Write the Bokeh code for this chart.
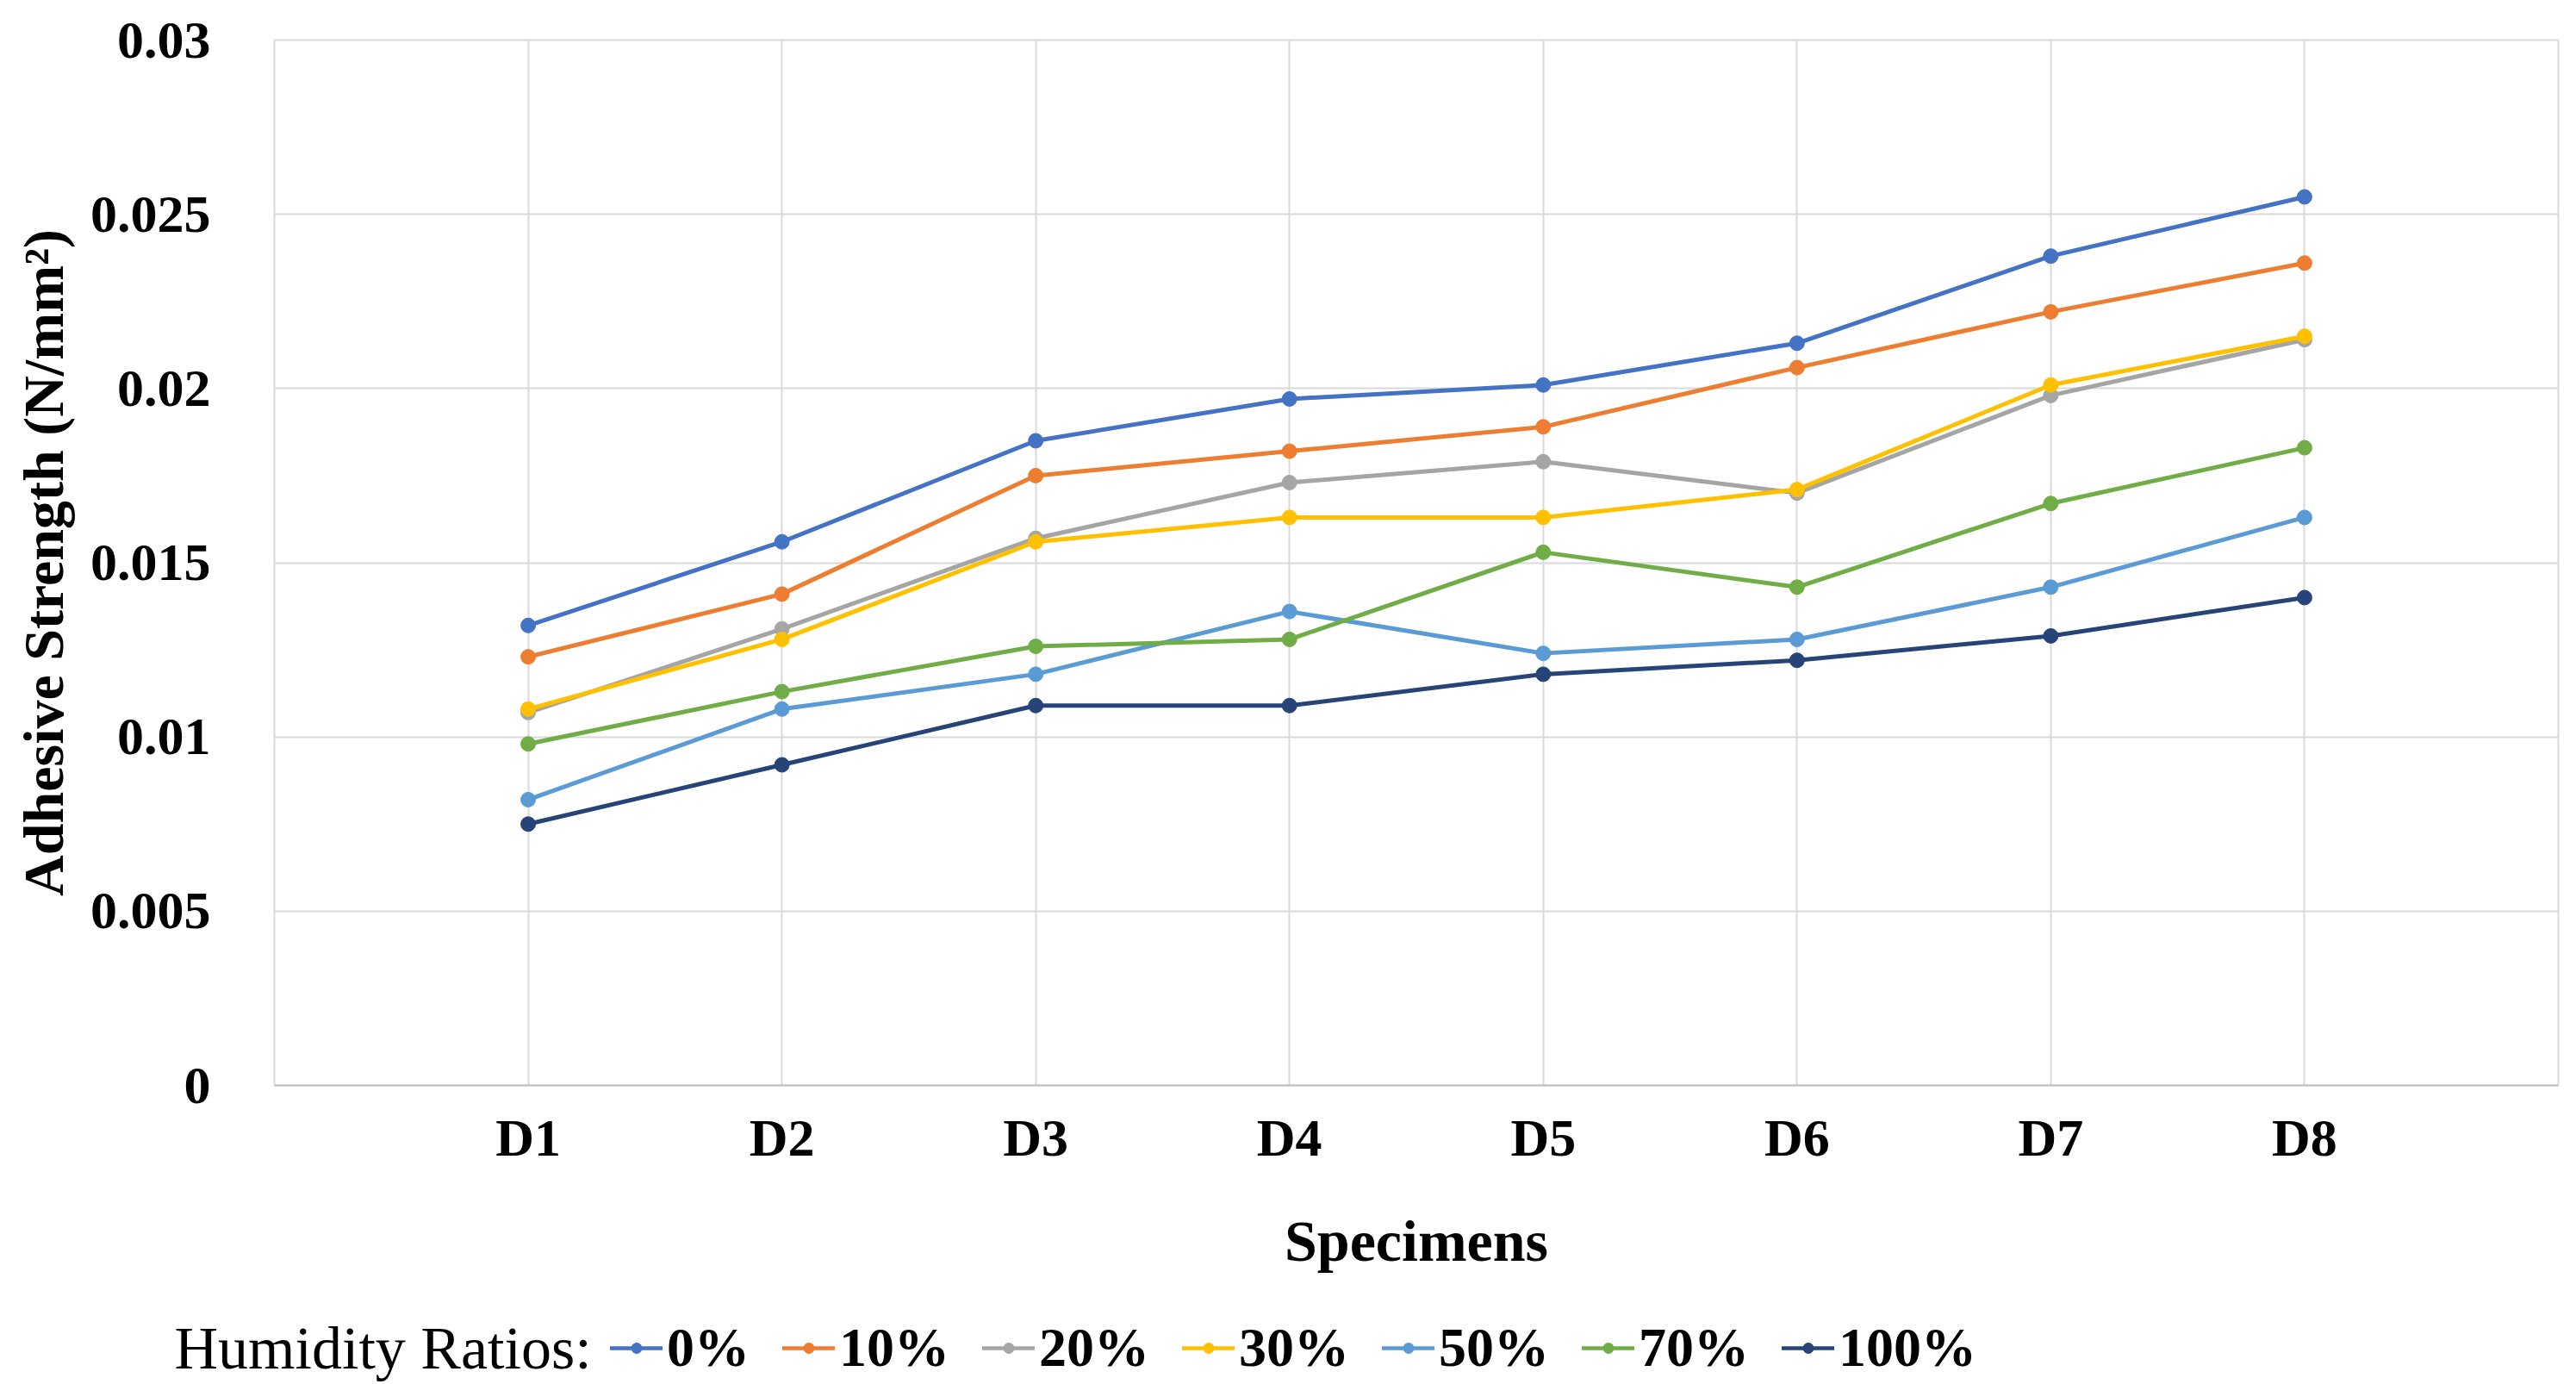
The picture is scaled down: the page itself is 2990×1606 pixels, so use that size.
from bokeh.plotting import figure
from bokeh.layouts import column
from bokeh.models import (FactorRange, Range1d, FixedTicker, Legend, LegendItem, Label)
from bokeh.embed import file_html
from bokeh.resources import INLINE

specimens = ["D1", "D2", "D3", "D4", "D5", "D6", "D7", "D8"]
series_names = ["0%", "10%", "20%", "30%", "50%", "70%", "100%"]
h0 = [0.0132, 0.0156, 0.0185, 0.0197, 0.0201, 0.0213, 0.0238, 0.0255]
h10 = [0.0123, 0.0141, 0.0175, 0.0182, 0.0189, 0.0206, 0.0222, 0.0236]
h20 = [0.0107, 0.0131, 0.0157, 0.0173, 0.0179, 0.0170, 0.0198, 0.0214]
h30 = [0.0108, 0.0128, 0.0156, 0.0163, 0.0163, 0.0171, 0.0201, 0.0215]
h50 = [0.0082, 0.0108, 0.0118, 0.0136, 0.0124, 0.0128, 0.0143, 0.0163]
h70 = [0.0098, 0.0113, 0.0126, 0.0128, 0.0153, 0.0143, 0.0167, 0.0183]
h100 = [0.0075, 0.0092, 0.0109, 0.0109, 0.0118, 0.0122, 0.0129, 0.0140]
series_values = [h0, h10, h20, h30, h50, h70, h100]
colors = ["#4472C4", "#ED7D31", "#A5A5A5", "#FFC000", "#5B9BD5", "#70AD47", "#264478"]
y_ticks = [0, 0.005, 0.01, 0.015, 0.02, 0.025, 0.03]
y_tick_labels = ["0", "0.005", "0.01", "0.015", "0.02", "0.025", "0.03"]
legend_title = "Humidity Ratios:"

FONT = "Liberation Serif"
W = 2974
H1 = 1500
H2 = 106

p = figure(width=W, height=H1, output_backend="svg", toolbar_location=None,
           x_range=FactorRange(factors=specimens, range_padding=0.5, range_padding_units="absolute"),
           y_range=Range1d(0, 0.03),
           min_border_left=318, min_border_right=5, min_border_top=46, min_border_bottom=H1 - 1259)
p.background_fill_color = "white"
p.border_fill_color = "white"
p.outline_line_color = "#D9D9D9"
p.outline_line_width = 2

# grids
p.xgrid.grid_line_color = "#D9D9D9"
p.xgrid.grid_line_width = 2
p.ygrid.grid_line_color = "#D9D9D9"
p.ygrid.grid_line_width = 2
p.ygrid.ticker = FixedTicker(ticks=y_ticks)

# y axis
p.yaxis.ticker = FixedTicker(ticks=y_ticks)
p.yaxis.major_label_overrides = {t: l for t, l in zip(y_ticks, y_tick_labels)}
p.yaxis.axis_line_color = None
p.yaxis.major_tick_line_color = None
p.yaxis.minor_tick_line_color = None
p.yaxis.major_label_standoff = 68
p.yaxis.major_label_text_font = FONT
p.yaxis.major_label_text_font_style = "bold"
p.yaxis.major_label_text_font_size = "62px"
p.yaxis.major_label_text_color = "black"
p.yaxis.axis_label = "Adhesive Strength (N/mm\u00b2)"
p.yaxis.axis_label_text_font = FONT
p.yaxis.axis_label_text_font_style = "bold"
p.yaxis.axis_label_text_font_size = "66px"
p.yaxis.axis_label_text_color = "black"
p.yaxis.axis_label_standoff = 15

# x axis
p.xaxis.axis_line_color = "#BFBFBF"
p.xaxis.axis_line_width = 2
p.xaxis.major_tick_line_color = None
p.xaxis.minor_tick_line_color = None
p.xaxis.major_label_standoff = 20
p.xaxis.major_label_text_font = FONT
p.xaxis.major_label_text_font_style = "bold"
p.xaxis.major_label_text_font_size = "62px"
p.xaxis.major_label_text_color = "black"
p.xaxis.axis_label = "Specimens"
p.xaxis.axis_label_text_font = FONT
p.xaxis.axis_label_text_font_style = "bold"
p.xaxis.axis_label_text_font_size = "68px"
p.xaxis.axis_label_text_color = "black"
p.xaxis.axis_label_standoff = 45

for name, vals, c in zip(series_names, series_values, colors):
    p.line(specimens, vals, line_color=c, line_width=5, line_cap="round", line_join="round")
    p.scatter(specimens, vals, marker="circle", size=17, fill_color=c, line_color=c)

# legend strip below the chart (same series, drawn out of view; only the legend shows)
p2 = figure(width=W, height=H2, output_backend="svg", toolbar_location=None,
            x_range=FactorRange(factors=specimens), y_range=Range1d(1, 2),
            x_axis_type=None, y_axis_type=None,
            min_border_left=0, min_border_right=0, min_border_top=0, min_border_bottom=0)
p2.grid.visible = False
p2.outline_line_color = None
p2.background_fill_color = "white"
p2.border_fill_color = "white"
for fig in (p, p2):
    if "frame_align" in fig.properties():
        fig.frame_align = False

items = []
for name, vals, c in zip(series_names, series_values, colors):
    r1 = p2.line(specimens, vals, line_color=c, line_width=4.5, line_cap="round")
    r2 = p2.scatter(specimens, vals, marker="circle", size=15, fill_color=c, line_color=c)
    items.append(LegendItem(label=name, renderers=[r1, r2]))

row_center = H2 - 64
legend = Legend(items=items, orientation="horizontal", location=(708, row_center - 37),
                glyph_width=61, glyph_height=30, label_standoff=5, spacing=38,
                padding=0, margin=0, border_line_alpha=0, background_fill_alpha=0,
                label_text_font=FONT, label_text_font_style="bold",
                label_text_font_size="64px", label_text_color="black")
p2.add_layout(legend, "center")

lab = Label(x=202, y=row_center, x_units="screen", y_units="screen", text=legend_title,
            text_font=FONT, text_font_size="70px", text_color="black",
            text_align="left", text_baseline="middle")
p2.add_layout(lab)

layout = column(p, p2, spacing=0)
open("out.html", "w").write(file_html(layout, INLINE))
